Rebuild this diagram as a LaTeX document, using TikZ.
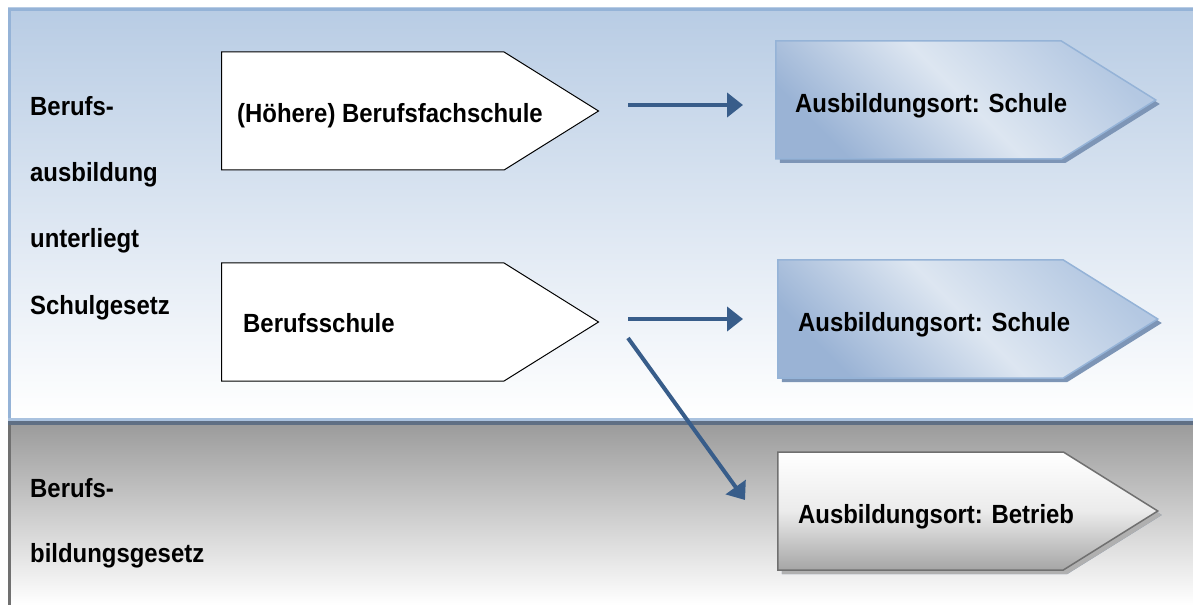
\documentclass[tikz,border=0pt]{standalone}
\usepackage{fontspec}
\setmainfont{Liberation Sans}
\usetikzlibrary{shapes.symbols, shadows, arrows.meta}
\definecolor{hellblau}{HTML}{B8CCE4}
\definecolor{randblau}{HTML}{95B3D7}
\definecolor{trennblau}{HTML}{5F6F84}
\definecolor{grau}{HTML}{9C9C9C}
\definecolor{graurand}{HTML}{707070}
\definecolor{pfeilblau}{HTML}{385D8A}
\definecolor{ortdunkel}{HTML}{9AB3D5}
\definecolor{orthell}{HTML}{DDE6F1}
\definecolor{ortmittel}{HTML}{B4C8E2}
\definecolor{schattenblau}{HTML}{7D95B6}
\tikzset{ %Kaestchen und Pfeile
	grund/.style={signal, signal to=east, signal pointer angle=64, draw=black, line width=1bp,
		fill=white, minimum width=377bp, minimum height=118bp, inner sep=0pt, anchor=west},
	ort/.style={signal, signal to=east, signal pointer angle=64, draw=randblau, line width=1.5bp,
		top color=ortdunkel, bottom color=ortmittel, middle color=orthell, shading angle=135,
		minimum width=380bp, minimum height=118bp, inner sep=0pt, anchor=west,
		drop shadow={shadow xshift=4bp, shadow yshift=-4bp, fill=schattenblau, opacity=1}},
	betrieb/.style={ort, draw=graurand, top color=white, bottom color=grau!90, middle color=white!80!grau,
		shading angle=0, drop shadow={shadow xshift=4bp, shadow yshift=-4bp, fill=grau!80, opacity=1}},
	lbl/.style={anchor=base west, inner sep=0pt, font=\bfseries\fontsize{24}{28}\selectfont},
	pfeil/.style={-{Triangle[length=16bp,width=24bp]}, line width=4bp, color=pfeilblau},
}
\newcommand{\streck}[1]{\scalebox{1}[1.1]{#1}}

\begin{document}
\begin{tikzpicture}[x=1bp, y=-1bp]
	\useasboundingbox (0,0) rectangle (1193,605);
	% Schulgesetz-Bereich
	\fill[top color=hellblau, bottom color=white] (8,8) rectangle (1193,418);
	\draw[randblau, line width=3bp] (9.5,420) -- (9.5,9.5) -- (1193,9.5);
	\fill[randblau!80] (8,418) rectangle (1193,421);
	\fill[trennblau] (8,421) rectangle (1193,425);
	% Berufsbildungsgesetz-Bereich
	\fill[top color=grau, bottom color=white] (8,425) rectangle (1193,605);
	\draw[graurand, line width=3bp] (9.5,425) -- (9.5,605);
	% linke Beschriftung
	\foreach \t/\y in {Berufs-/116, ausbildung/182, unterliegt/248, Schulgesetz/315, Berufs-/497, bildungsgesetz/562}{
		\node[lbl] (links\y) at (30,\y) {\streck{\t}};
	}
	% Schulformen
	\node[grund] (fach) at (221,111) {};
	\node[grund] (bs) at (221,322) {};
	\node[lbl] (tfach) at (237,123) {\streck{(Höhere) Berufsfachschule}};
	\node[lbl] (tbs) at (243,333) {\streck{Berufsschule}};
	% Ausbildungsorte
	\node[ort] (schule1) at (775,100) {};
	\node[ort] (schule2) at (777,319) {};
	\node[betrieb] (betr) at (777,511) {};
	\node[lbl] (ts1) at (795,113) {\streck{Ausbildungsort: Schule}};
	\node[lbl] (ts2) at (798,332) {\streck{Ausbildungsort: Schule}};
	\node[lbl] (tbetr) at (798,523) {\streck{Ausbildungsort: Betrieb}};
	% Pfeile
	\coordinate (p1) at (628,105);
	\coordinate (q1) at (743,105);
	\coordinate (p2) at (628,319);
	\coordinate (q2) at (743,319);
	\coordinate (p3) at (628,338);
	\coordinate (q3) at (745,500);
	\foreach \i in {1,2,3}{
		\draw[pfeil] (p\i) -- (q\i);
	}
\end{tikzpicture}
\end{document}
